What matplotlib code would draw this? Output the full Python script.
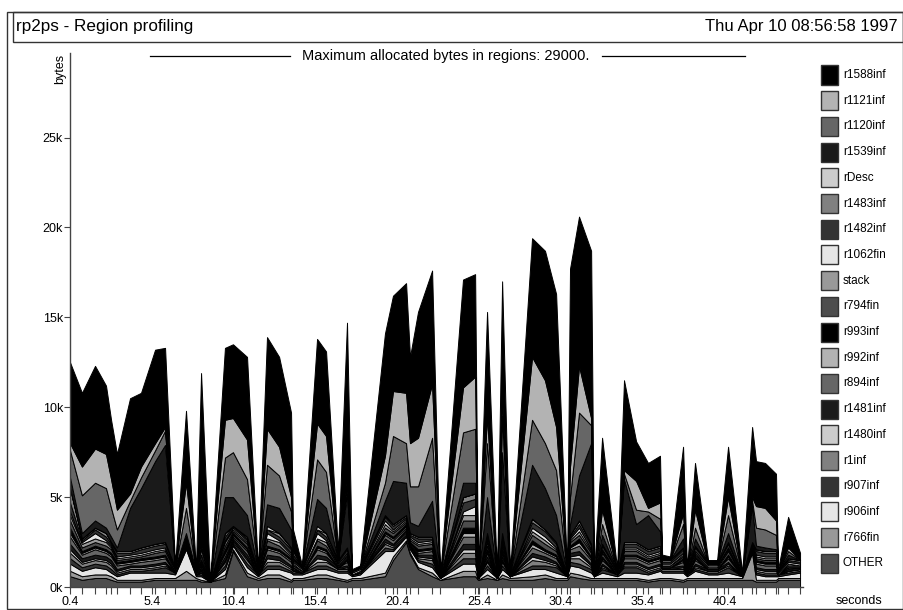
import numpy as np
import matplotlib.pyplot as plt
from matplotlib.patches import Rectangle
from matplotlib.lines import Line2D

plt.rcParams['font.family'] = ['Liberation Sans', 'DejaVu Sans']

# sample times, seconds
t = [0.40, 1.13, 1.93, 2.60, 2.91, 3.27, 4.07, 4.74, 5.60, 6.21,
     6.82, 7.49, 8.10, 8.41, 8.96, 9.87, 10.36, 11.22, 11.89, 12.44,
     13.18, 13.91, 14.03, 14.58, 15.50, 16.05, 16.78, 17.33, 17.64, 18.13,
     19.65, 20.14, 20.94, 21.18, 21.67, 22.53, 23.02, 24.42, 25.16, 25.34,
     25.89, 26.50, 26.81, 27.29, 28.64, 29.43, 30.11, 30.78, 30.96, 31.51,
     32.25, 32.43, 32.92, 33.84, 34.26, 35.00, 35.73, 36.46, 36.59, 37.07,
     37.87, 38.11, 38.60, 39.40, 39.95, 40.62, 41.48, 42.09, 42.33, 42.88,
     43.55, 43.68, 44.29, 45.02]

# allocated kbytes per region, bottom of the stack first
other = [.6, .4, .5, .5, .4, .3, .3, .3, .4, .4,
         .4, .4, .4, .3, .3, .5, 2.0, .6, .4, .5,
         .5, .3, .4, .4, .5, .5, .4, .3, .4, .4,
         .6, 1.5, 2.5, 1.8, 1.0, .6, .4, .6, .6, .4,
         .5, .4, .5, .4, .4, .5, .4, .4, .6, .5,
         .4, .4, .4, .4, .4, .4, .3, .4, .4, .4,
         .3, .4, .4, .4, .4, .4, .4, .4, .3, .3,
         .3, .4, .4, .4]
r766fin = [.3, .2, .2, .2, .2, .1, .1, .1, .1, .1,
           .1, .5, .1, .1, 0, .2, .1, .2, .1, .2,
           .2, .1, .1, .1, .2, .2, .1, .1, .1, .1,
           .2, .2, .1, .1, .1, .2, 0, .3, .3, 0,
           .2, 0, .2, .1, .2, .2, .1, .1, .2, .2,
           .1, .1, .1, .1, .1, .1, .1, .1, .1, .1,
           .1, .1, .1, .1, .1, .1, .1, 1.5, .1, .1,
           .1, .1, .1, .1]
r906inf = [.4, .3, .4, .3, .2, .2, .4, .4, .3, .3,
           .2, 1.2, .1, .2, 0, .3, .2, .3, .1, .3,
           .3, .4, .2, .2, .3, .3, .3, .4, .1, .2,
           1.2, .3, .2, .2, .3, .3, .1, .4, .4, .1,
           .3, .1, .3, .1, .4, .3, .3, .1, .4, .4,
           .3, .1, .3, .1, .3, .3, .3, .4, .3, .3,
           .4, .1, .4, .2, .2, .3, .1, .1, .3, .2,
           .2, .1, .2, .3]
r907inf = [.3, .2, .2, .2, .2, .1, .1, .1, .2, .3,
           .1, .1, .1, .1, 0, .2, .1, .2, .1, .2,
           .2, .1, .1, .1, .2, .2, .1, .1, .1, .1,
           .2, .1, .1, .1, .1, .2, 0, .3, .3, 0,
           .2, 0, .2, 0, .2, .2, .3, 0, .2, .2,
           .2, 0, .2, .1, .3, .3, .1, .1, .1, .1,
           .1, .1, .1, .1, .1, .3, 0, .1, .1, .1,
           .1, .1, .1, .1]
r1inf = [.3, .2, .2, .2, .2, .1, .1, .1, .1, .1,
         0, .1, 0, .1, 0, .2, .1, .2, 0, .2,
         .2, .1, .1, 0, .2, .2, .1, .1, 0, 0,
         .2, .1, .1, .1, .1, .2, 0, .3, .3, 0,
         .2, 0, .2, 0, .3, .2, .1, 0, .2, .3,
         .1, 0, .1, 0, .1, .1, .1, .1, .1, .1,
         .1, 0, .1, .1, .1, .1, 0, 0, .1, .1,
         .1, 0, .1, .1]
r1480inf = [.2, .1, .1, .1, .1, .1, .1, .1, .1, .1,
            0, 0, 0, 0, 0, .1, .1, .1, 0, .2,
            .1, .1, 0, 0, .2, .1, 0, .1, 0, 0,
            .1, .1, .1, 0, .1, .1, 0, .2, .2, 0,
            .1, 0, .1, 0, .2, .1, .1, 0, .1, .2,
            .1, 0, .1, 0, .1, .1, .1, .1, 0, 0,
            .1, 0, .1, 0, 0, .1, 0, 0, .1, .1,
            .1, 0, 0, 0]
r1481inf = [.3, .2, .2, .2, .2, .1, .1, .1, .1, .1,
            0, .1, 0, .1, 0, .2, .1, .2, 0, .2,
            .2, .1, .1, 0, .2, .2, .1, .1, 0, 0,
            .2, .1, .1, .1, .1, .2, 0, .3, .3, 0,
            .2, 0, .2, 0, .2, .2, .1, 0, .2, .2,
            .1, 0, .1, 0, .1, .1, .1, .1, .1, .1,
            .1, 0, .1, .1, .1, .1, 0, .1, .1, .1,
            .1, 0, .1, .1]
r894inf = [.4, .2, .3, .2, .2, .2, .1, .2, .2, .2,
           0, .1, 0, .1, 0, .2, .1, .2, 0, .3,
           .2, .2, .1, 0, .3, .2, 0, .2, 0, 0,
           .2, .2, .1, .1, .1, .2, 0, .4, .4, 0,
           .2, 0, .2, 0, .3, .2, .2, 0, .2, .3,
           .2, 0, .2, 0, .2, .2, .2, .2, 0, 0,
           .2, 0, .2, 0, 0, .2, 0, .1, .2, .2,
           .2, 0, .1, 0]
r992inf = [.2, .1, .1, .1, .1, .1, .1, .1, .1, .1,
           0, 0, 0, 0, 0, .1, .1, .1, 0, .1,
           .1, .1, 0, 0, .1, .1, 0, .1, 0, 0,
           .1, .1, .1, 0, .1, .1, 0, .2, .2, 0,
           .1, 0, .1, 0, .2, .1, .1, 0, .1, .2,
           .1, 0, .1, 0, .1, .1, .1, .1, 0, 0,
           .1, 0, .1, 0, 0, .1, 0, 0, .1, .1,
           .1, 0, 0, 0]
r993inf = [.3, .1, .1, .1, .1, .1, .1, .1, .1, .1,
           0, 0, 0, 0, 0, .1, .1, .1, 0, .1,
           .1, .1, 0, 0, .1, .1, 0, .1, 0, 0,
           .1, .1, .1, 0, .1, .1, 0, .3, .3, 0,
           .1, 0, .1, 0, .2, .1, .1, 0, .1, .2,
           .1, 0, .1, 0, .1, .1, .1, .1, 0, 0,
           .1, 0, .1, 0, 0, .1, 0, 0, .1, .1,
           .1, 0, 0, 0]
r794fin = [.4, .2, .2, .2, .2, .1, .1, .1, .2, .2,
           .1, .1, 0, .1, 0, .2, .1, .2, 0, .3,
           .2, .1, .1, .1, .3, .2, .1, .1, 0, .1,
           .2, .2, .1, .1, .2, .2, 0, .4, .4, 0,
           .2, 0, .2, 0, .3, .3, .2, 0, .2, .2,
           .2, 0, .2, 0, .2, .2, .1, .1, .1, .1,
           .1, 0, .1, .1, .1, .2, 0, .1, .1, .1,
           .1, 0, .1, .1]
stack = [.3, .2, .2, .2, .1, .1, .1, .1, .1, .1,
         0, .1, 0, .1, 0, .2, .1, .1, 0, .1,
         .2, .1, .1, 0, .1, .2, 0, .1, 0, 0,
         .2, .1, .1, .1, .1, .1, 0, .3, .3, 0,
         .2, 0, .2, 0, .2, .2, .1, 0, .1, .2,
         .1, 0, .1, 0, .1, .1, .1, .1, 0, 0,
         .1, 0, .1, 0, 0, .1, 0, 0, .1, .1,
         .1, 0, .1, 0]
r1062fin = [.2, .1, .3, .1, .1, .1, .1, .1, .1, .1,
            .1, 0, .1, .1, 0, .1, .1, .1, .1, .3,
            .1, .1, .1, .1, .3, .1, .1, .1, .1, .1,
            .2, .1, .1, .1, .1, .1, 0, .2, .5, 0,
            .1, 0, .1, 0, .2, .2, .1, 0, .1, .2,
            .1, 0, .1, .1, .1, .1, .1, .1, .1, .1,
            .1, .1, .1, .1, .1, .1, 0, 0, .1, .1,
            .1, .1, .1, .1]
r1482inf = [.5, .1, .2, .2, .1, .2, .1, .2, .2, .2,
            .1, .1, .1, .1, 0, .2, .1, .1, .1, .2,
            .2, .2, .1, .1, .2, .2, .1, .2, .1, .1,
            .2, .2, .1, .1, .2, .1, .1, .5, .4, 0,
            .2, 0, .2, .1, .3, .3, .2, .1, .1, .2,
            .2, .1, .2, .1, .2, .2, .2, .2, .1, .1,
            .2, .1, .2, .1, .1, .2, .1, .1, .2, .2,
            .2, .1, .1, .1]
r1483inf = [.8, .1, .1, .2, .1, .1, .1, .1, .1, .1,
            0, 0, 0, .1, 0, .2, 0, .1, 0, 0,
            .2, .1, .1, 0, 0, .2, .1, .1, 0, 0,
            .1, .1, .1, .1, .1, .1, 0, .3, .3, 0,
            .2, 0, .2, 0, .2, .1, .1, 0, .1, .2,
            .1, 0, .1, 0, .1, .1, .1, .1, .1, .1,
            .1, 0, .1, 0, 0, .1, 0, 0, .1, .1,
            .1, 0, .1, .1]
rdesc = [0, 0, 0, 0, 0, 0, 0, 0, 0, 0,
         0, 0, 0, 0, 0, 0, 0, 0, 0, .2,
         0, 0, 0, 0, .2, 0, 0, 0, 0, 0,
         0, 0, 0, 0, 0, 0, 0, 0, 0, 0,
         0, 0, 0, 0, 0, 0, 0, 0, 0, 0,
         0, 0, 0, 0, 0, 0, 0, 0, 0, 0,
         0, 0, 0, 0, 0, 0, 0, 0, 0, 0,
         0, 0, 0, 0]
r1539inf = [.6, .3, .4, .3, .3, .2, 2.4, 3.3, 4.6, 5.4,
            0, .2, 0, .3, 0, 2.0, 1.6, 1.2, 0, 1.2,
            1.4, 1.0, .2, 0, 1.5, 1.4, 0, 3.0, 0, 0,
            .8, 2.4, 1.8, .6, .6, 2.0, 0, .8, .6, 0,
            2.0, 0, 4.5, 0, 3.0, 2.3, 1.5, 0, .6, 2.5,
            5.6, 0, .5, 0, 3.5, 1.0, 1.9, .8, 0, 0,
            .5, 0, .4, 0, 0, .5, 0, 2.0, .2, .2,
            .1, 0, .2, 0]
r1120inf = [1.5, 2.1, 2.1, 2.2, 1.6, 1.0, .4, .6, .6, .8,
            0, 1.4, 0, .3, 0, 2.2, 2.5, 2.0, 0, 2.2,
            1.8, 1.0, .2, 0, 2.2, 2.0, 0, .5, 0, 0,
            1.0, 2.5, 2.2, 2.0, 2.2, 3.5, 0, 2.8, 3.0, 0,
            3.0, 0, 2.0, 0, 2.5, 2.5, 2.5, 0, 1.5, 3.5,
            1.0, 0, .6, 0, .3, .8, .2, .7, 0, 0,
            .8, 0, .6, 0, 0, 1.0, 0, .3, 1.0, 1.0,
            .8, 0, .2, 0]
r1121inf = [.4, 1.6, 1.9, 1.9, 1.6, 1.1, .4, .6, .4, .2,
            0, 1.4, 0, .2, 0, 2.1, 1.9, 2.2, 0, 2.0,
            1.6, .8, .1, 0, 2.0, 2.0, 0, .3, 0, 0,
            1.5, 2.5, 2.8, 2.4, 2.7, 3.0, 0, 2.5, 2.9, 0,
            1.5, 0, 1.0, 0, 3.5, 3.5, 2.4, 0, 1.7, 2.6,
            .4, 0, .8, 0, .2, 1.6, .2, .9, 0, 0,
            .6, 0, 1.0, 0, 0, 1.0, 0, .2, 1.2, 1.2,
            .8, 0, .2, 0]
r1588inf = [4.5, 4.1, 4.6, 3.8, 3.3, 3.1, 5.3, 4.1, 5.2, 4.4,
            .1, 4.0, .1, 9.6, 0, 4.0, 4.1, 4.6, .1, 5.1,
            5.0, 4.7, 1.1, .1, 4.7, 4.7, .5, 8.7, .1, .1,
            6.8, 5.3, 6.1, 4.8, 7.0, 6.3, 0, 6.0, 5.7, 0,
            5.8, 0, 6.5, .1, 6.6, 7.2, 7.4, .1, 11.0, 8.3,
            9.3, .1, 4.0, .1, 5.0, 2.2, 2.5, 2.6, .3, .2,
            3.7, .1, 2.6, .2, .2, 2.8, .1, 3.9, 2.5, 2.5,
            2.6, .1, 1.7, .4]

# legend order (top of stack first)
names = ['r1588inf', 'r1121inf', 'r1120inf', 'r1539inf', 'rDesc',
         'r1483inf', 'r1482inf', 'r1062fin', 'stack', 'r794fin',
         'r993inf', 'r992inf', 'r894inf', 'r1481inf', 'r1480inf',
         'r1inf', 'r907inf', 'r906inf', 'r766fin', 'OTHER']
series = [r1588inf, r1121inf, r1120inf, r1539inf, rdesc,
          r1483inf, r1482inf, r1062fin, stack, r794fin,
          r993inf, r992inf, r894inf, r1481inf, r1480inf,
          r1inf, r907inf, r906inf, r766fin, other]
grays = [0.0, 0.7, 0.4, 0.1, 0.8, 0.5, 0.2, 0.9, 0.6, 0.3] * 2

W, H = 904, 610


def fx(px):
    return px / W


def fy(py):
    return 1 - py / H


fig = plt.figure(figsize=(W / 100, H / 100), dpi=100)
ax = fig.add_axes([fx(70), fy(587), (803 - 70) / W, (587 - 53) / H])

layers = [np.array(s) * 1000 for s in series[::-1]]
cols = [str(g) for g in grays[::-1]]
ax.stackplot(t, *layers, colors=cols, edgecolor='black', linewidth=0.7)

ax.set_xlim(0.4, 45.2)
ax.set_ylim(0, 29700)
for side in ('top', 'right'):
    ax.spines[side].set_visible(False)
for side in ('left', 'bottom'):
    ax.spines[side].set_color('#444444')
    ax.spines[side].set_linewidth(1.0)

yt = np.arange(0, 30000, 5000)
ax.set_yticks(yt)
ax.set_yticklabels([f'{v // 1000}k' for v in yt], fontsize=9)
xt = np.arange(0.4, 41, 5)
ax.set_xticks(xt)
ax.set_xticklabels([f'{v:.1f}' for v in xt], fontsize=9)
ax.set_xticks(t, minor=True)
ax.tick_params(axis='y', length=4, width=0.8, pad=1, color='#444444')
ax.tick_params(axis='x', which='both', length=5, width=0.8, pad=1.5,
               color='#444444')

# page frame and header box
fig.add_artist(Rectangle((fx(7), fy(609)), (903 - 7) / W, (609 - 12) / H,
                         transform=fig.transFigure, fill=False,
                         edgecolor='#333333', lw=1.0))
fig.add_artist(Rectangle((fx(13), fy(42)), (903 - 13) / W, (42 - 12) / H,
                         transform=fig.transFigure, fill=False,
                         edgecolor='#333333', lw=1.0))
fig.text(fx(16), fy(27), 'rp2ps - Region profiling', fontsize=12.3,
         va='center', ha='left')
fig.text(fx(898), fy(27), 'Thu Apr 10 08:56:58 1997', fontsize=12,
         va='center', ha='right')

fig.text(fx(446), fy(56), 'Maximum allocated bytes in regions: 29000.',
         fontsize=10.5, ha='center', va='center')
fig.add_artist(Line2D([fx(150), fx(290)], [fy(56), fy(56)],
                      transform=fig.transFigure, color='black', lw=0.9))
fig.add_artist(Line2D([fx(602), fx(745)], [fy(56), fy(56)],
                      transform=fig.transFigure, color='black', lw=0.9))

fig.text(fx(60), fy(69), 'bytes', rotation=90, fontsize=9,
         ha='center', va='center')
fig.text(fx(859), fy(601), 'seconds', fontsize=9, ha='center', va='center')

# legend boxes
for i, (name, g) in enumerate(zip(names, grays)):
    yc = 75 + 25.7 * i
    fig.add_artist(Rectangle((fx(821), fy(yc + 9.5)), 17 / W, 19 / H,
                             transform=fig.transFigure, facecolor=str(g),
                             edgecolor='#333333', lw=1.0))
    fig.text(fx(843), fy(yc), name, fontsize=8.5, va='center', ha='left')

fig.savefig('out.png', dpi=100)
